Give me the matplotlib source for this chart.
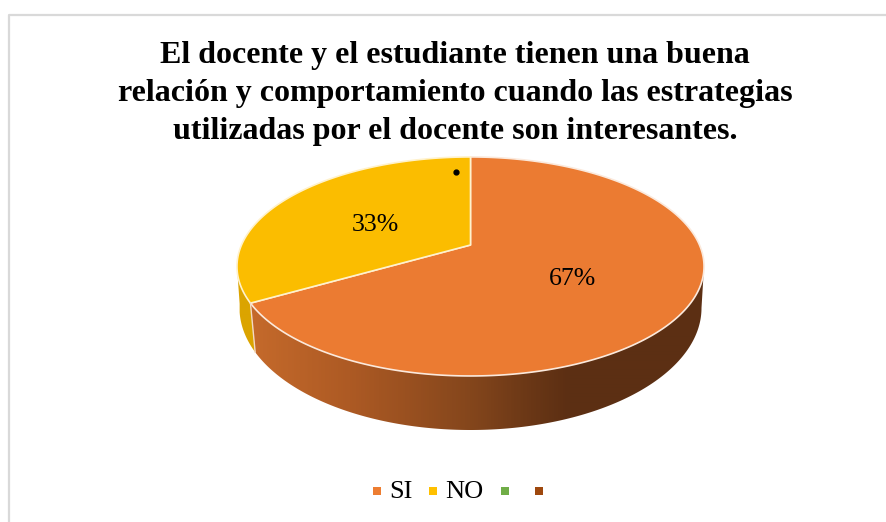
import numpy as np
import matplotlib.pyplot as plt
from matplotlib.colors import LinearSegmentedColormap
from matplotlib.patches import Polygon

titulo = ['El docente y el estudiante tienen una buena',
          'relación y comportamiento cuando las estrategias',
          'utilizadas por el docente son interesantes.']
categorias = ['SI', 'NO', ' ', ' ']
valores = [66.7, 33.3, 0, 0]
colores = ['#ED7D31', '#FFC000', '#70AD47', '#9E480E']

plt.rcParams['font.family'] = ['Liberation Serif', 'DejaVu Serif']

W, H = 887, 522
fig = plt.figure(figsize=(W/100, H/100), dpi=100)
ax = fig.add_axes([0, 0, 1, 1])
ax.axis('off')

# marco del grafico
ax.plot([9.5, 9.5, 886], [522, 14.5, 14.5], color='#d9d9d9', lw=1.6)

# pastel en perspectiva: circulo unitario proyectado
cx, cy = 470.5, 245
k, a, b = 0.196, 105.3, 229

def proyecta(ang):
    u = np.sin(ang)
    v = np.cos(ang)
    d = 1 + k*v
    return cx + b*u/d, cy - a*v/d

def borde_inferior(x, y):
    # la base del pastel es una elipse algo mas angosta
    phi = np.arctan2((y - 266.5)/110, (x - cx)/233.5)*0.989
    return cx + 231*np.cos(phi), 308 + 122*np.sin(phi)

ang_si = 2*np.pi*valores[0]/sum(valores)
t_si = np.linspace(0, ang_si, 400)
t_no = np.linspace(ang_si, 2*np.pi, 200)

# pared lateral: degradado horizontal recortado con la forma de la pared
def pared(ang_ini, ang_fin, cmap):
    t = np.linspace(ang_ini, ang_fin, 300)
    x, y = proyecta(t)
    xi, yi = borde_inferior(x, y)
    forma = Polygon(np.column_stack([np.r_[x, xi[::-1]], np.r_[y, yi[::-1]]]), closed=True,
                    fc='none', ec='none', transform=ax.transData)
    ax.add_patch(forma)
    grad = np.linspace(0, 1, 467)[None, :]
    im = ax.imshow(grad, cmap=cmap, vmin=0, vmax=1, extent=[237, 704, 440, 250], aspect='auto',
                   interpolation='bilinear')
    im.set_clip_path(forma)

grad_si = LinearSegmentedColormap.from_list('si', [(0, '#c86c2c'), (0.24, '#ad5a24'), (0.5, '#84461c'),
                                                    (0.63, '#6a3716'), (0.71, '#5c2f13'), (1, '#5c3014')])
grad_no = LinearSegmentedColormap.from_list('no', ['#dba400', '#dba400'])

# los extremos de la elipse no coinciden con pi/2 en la proyeccion
ang_der = np.arccos(-k)
ang_izq = 2*np.pi - ang_der
pared(ang_der, ang_si, grad_si)
pared(ang_si, ang_izq, grad_no)

# tapa
x, y = proyecta(t_si)
ax.add_patch(Polygon(np.column_stack([np.r_[cx, x], np.r_[cy, y]]), closed=True,
                     fc='#EB7B32', ec='#fbe9dc', lw=1.2, joinstyle='round'))
x, y = proyecta(t_no)
ax.add_patch(Polygon(np.column_stack([np.r_[cx, x], np.r_[cy, y]]), closed=True,
                     fc='#FBBD00', ec='#fff2cc', lw=1.2, joinstyle='round'))
xb, yb = proyecta(ang_si)
xi, yi = borde_inferior(xb, yb)
ax.plot([xb, xi], [yb, yi], color='#f3d9c4', lw=1.0)

# etiquetas
ax.text(573, 279, '%.0f%%' % valores[0], fontsize=18.5, ha='center', va='center', color='black')
ax.text(375, 225, '%.0f%%' % valores[1], fontsize=18.5, ha='center', va='center', color='black')
ax.plot([456], [172], marker='o', ms=3.5, color='black')

# titulo
for i, linea in enumerate(titulo):
    ax.text(455, 55 + i*38.3, linea, fontsize=23, fontweight='bold', ha='center', va='center', color='black')

# leyenda
pos_marca = [376.7, 433, 505.3, 538.7]
for cat, col, xm in zip(categorias, colores, pos_marca):
    ax.plot([xm], [491], marker='s', ms=5.76, color=col, mew=0)
    if cat.strip():
        ax.text(xm + 12.5, 492, cat, fontsize=19, ha='left', va='center', color='black')

ax.set_xlim(0, W)
ax.set_ylim(H, 0)
fig.savefig('out.png', dpi=100)
